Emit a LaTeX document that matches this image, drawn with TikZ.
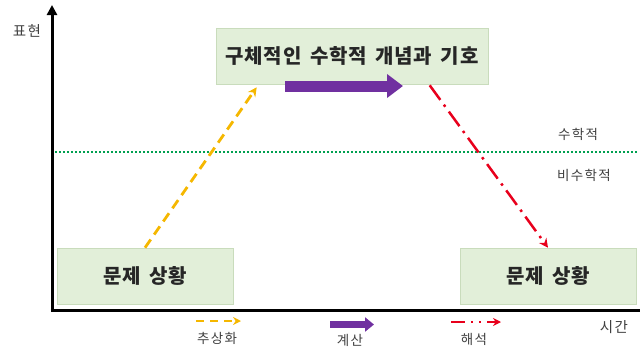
\documentclass[tikz,border=0pt]{standalone}
\usepackage{fontspec}
\setmainfont{Noto Sans CJK KR}
\newfontfamily\boxfont{Noto Sans CJK KR}[LetterSpace=4,WordSpace=1.6]
\newfontfamily\lblfont{Noto Sans CJK KR}[LetterSpace=10]
\usetikzlibrary{arrows.meta,calc}
\definecolor{boxfill}{HTML}{E2EFD9}
\definecolor{boxline}{HTML}{C9DCBC}
\definecolor{absc}{HTML}{F5B700}
\definecolor{calcc}{HTML}{7030A0}
\definecolor{intc}{HTML}{E8001C}
\definecolor{dotc}{HTML}{00A050}
\definecolor{txt}{HTML}{404040}
\tikzset{
  sitbox/.style={draw=boxline, line width=0.6pt, fill=boxfill, inner sep=0pt,
    font=\boxfont\fontsize{20}{23}\selectfont\bfseries, text=black!85},
  small/.style={font=\lblfont\fontsize{13.5}{15}\selectfont, text=txt, inner sep=0pt},
  abstr/.style={draw=absc, line width=2.8pt, dash pattern=on 10pt off 6pt, -{Stealth[length=9pt,width=9pt]}},
  calcarr/.style={draw=calcc, line width=11pt, -{Triangle[length=16pt,width=23pt]}},
  calcleg/.style={draw=calcc, line width=7pt, -{Triangle[length=9pt,width=14pt]}},
  interp/.style={draw=intc, line width=2.5pt, dash pattern=on 18pt off 6pt on 2.5pt off 6pt, -{Stealth[length=9pt,width=9pt]}},
}
\begin{document}
\begin{tikzpicture}[x=1pt,y=-1pt]
\useasboundingbox (0,0) rectangle (640,348);
% axes
\draw[line width=3pt, -{Triangle[length=10pt,width=10pt]}] (52,311.5) -- (52,5);
\draw[line width=3pt] (50.5,310) -- (640,310);
% dotted line
\draw[dotc, line width=2pt, dash pattern=on 2pt off 2pt] (55,152) -- (637,152);
% boxes
\node[sitbox, minimum width=272pt, minimum height=56pt] (top) at (352,56) {구체적인 수학적 개념과 기호};
\node[sitbox, minimum width=176pt, minimum height=56pt] (bl) at (145,276) {문제 상황};
\node[sitbox, minimum width=176pt, minimum height=56pt] (br) at (548,276) {문제 상황};
% connectors
\coordinate (abEnd) at ($(top.south west)+(41,3)$);
\draw[abstr] (bl.north) -- (abEnd);
\coordinate (inStart) at ($(top.south west)+(214,1)$);
\draw[interp] (inStart) -- (br.north);
\coordinate (cS) at (285,86);
\coordinate (cE) at (403,86);
\draw[calcarr] (cS) -- (cE);
% labels
\node[small] (lmath) at (578,134) {수학적};
\node[small] (lnon) at (584,175) {비수학적};
\node[small, font=\lblfont\fontsize{14.5}{16}\selectfont] (lrep) at (27,31) {표현};
\node[small, font=\lblfont\fontsize{14.5}{16}\selectfont] (ltime) at (614,327) {시간};
% legend
\coordinate (a1) at (196,321);
\coordinate (a2) at (241,321);
\draw[abstr, line width=2.5pt, dash pattern=on 8pt off 6pt, -{Stealth[length=8pt,width=8pt]}] (a1) -- (a2);
\node[small] (labs) at (217,338) {추상화};
\coordinate (c1) at (330,324.5);
\coordinate (c2) at (374,324.5);
\draw[calcleg] (c1) -- (c2);
\node[small] (lcalc) at (350,340) {계산};
\coordinate (r1) at (451,322);
\coordinate (r2) at (501,322);
\draw[interp, line width=2pt, dash pattern=on 14pt off 6pt on 2pt off 6pt on 2pt off 6pt, -{Stealth[length=8pt,width=8pt]}] (r1) -- (r2);
\node[small] (lint) at (474,339) {해석};
\end{tikzpicture}
\end{document}
